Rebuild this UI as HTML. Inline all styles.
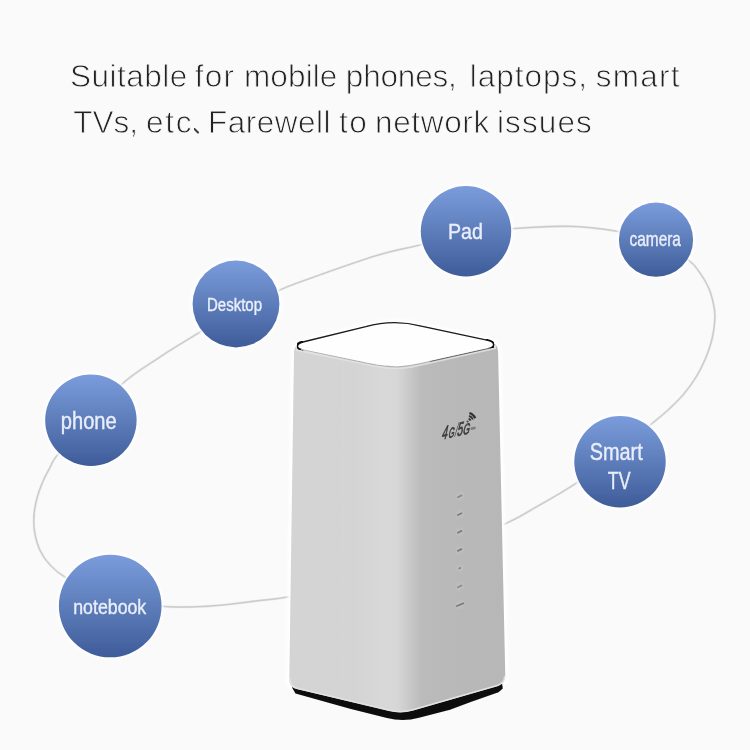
<!DOCTYPE html>
<html><head><meta charset="utf-8"><title>Router</title>
<style>
html,body{margin:0;padding:0;background:#fafafa;}
body{width:750px;height:750px;overflow:hidden;font-family:"Liberation Sans",sans-serif;}
svg{display:block;}
text{font-family:"Liberation Sans",sans-serif;}
</style></head><body>
<svg width="750" height="750" viewBox="0 0 750 750">
<defs>
<linearGradient id="cg" x1="0" y1="0" x2="0" y2="1">
<stop offset="0" stop-color="#7b9cdc"/><stop offset="0.5" stop-color="#5d7dba"/><stop offset="1" stop-color="#3e5c99"/>
</linearGradient>
<linearGradient id="bodyg" gradientUnits="userSpaceOnUse" x1="289" y1="0" x2="507" y2="0">
<stop offset="0.000" stop-color="#d4d4d4"/>
<stop offset="0.300" stop-color="#d4d4d4"/>
<stop offset="0.440" stop-color="#d8d8d8"/>
<stop offset="0.490" stop-color="#d7d7d7"/>
<stop offset="0.525" stop-color="#d0d0d0"/>
<stop offset="0.570" stop-color="#c4c4c4"/>
<stop offset="0.610" stop-color="#bbbbbb"/>
<stop offset="0.640" stop-color="#bababa"/>
<stop offset="0.800" stop-color="#b8b8b8"/>
<stop offset="1.000" stop-color="#b7b7b7"/>
</linearGradient>
<linearGradient id="rshade" gradientUnits="userSpaceOnUse" x1="0" y1="345" x2="0" y2="700">
<stop offset="0" stop-color="#000" stop-opacity="0.16"/>
<stop offset="0.35" stop-color="#000" stop-opacity="0.05"/>
<stop offset="1" stop-color="#000" stop-opacity="0"/>
</linearGradient>
<filter id="tb" x="-5%" y="-20%" width="110%" height="140%"><feGaussianBlur stdDeviation="0.35"/></filter>
<filter id="lb" x="-5%" y="-5%" width="110%" height="110%"><feGaussianBlur stdDeviation="0.85"/></filter>
<filter id="b03"><feGaussianBlur stdDeviation="0.35"/></filter>
<filter id="b0"><feGaussianBlur stdDeviation="0.4"/></filter>
<filter id="b05"><feGaussianBlur stdDeviation="0.55"/></filter>
<filter id="b1"><feGaussianBlur stdDeviation="0.6"/></filter>
<filter id="b2"><feGaussianBlur stdDeviation="1.5"/></filter>
</defs>
<rect width="750" height="750" fill="#fafafa"/>
<g fill="none" stroke-linecap="round"><path d="M33.9 516.8 C34.2 511.1 35.2 505.4 36.6 499.7 C38.0 494.0 40.2 487.9 42.4 482.6 C44.6 477.3 47.2 472.5 49.9 467.7 C52.6 462.9 51.5 461.8 58.4 453.9 C65.2 445.9 80.4 431.6 91.0 420.0 C101.6 408.4 110.5 394.5 122.0 384.0 C133.5 373.5 147.0 365.7 160.0 357.0 C173.0 348.3 187.3 340.0 200.0 332.0 C212.7 324.0 222.7 316.0 236.0 309.0 C249.3 302.0 269.3 294.5 280.0 290.0 C290.7 285.5 284.2 287.7 300.0 282.0 C315.8 276.3 355.0 262.2 375.0 256.0 C395.0 249.8 405.0 248.8 420.0 245.0 C435.0 241.2 449.8 235.7 465.0 233.0 C480.2 230.3 493.5 229.9 511.0 228.8 C528.5 227.7 552.0 225.8 570.0 226.3 C588.0 226.8 604.7 229.0 619.0 231.6 C633.3 234.2 644.5 237.3 656.0 242.0 C667.5 246.7 680.9 255.0 688.1 260.0 C695.3 265.0 695.9 267.3 699.3 272.0 C702.7 276.7 706.2 282.2 708.7 288.0 C711.2 293.8 713.0 301.4 714.0 306.7 C715.0 312.0 715.1 314.7 714.8 320.0 C714.5 325.3 713.6 332.5 712.1 338.7 C710.6 344.9 708.6 351.1 706.0 357.3 C703.4 363.5 700.5 369.8 696.7 376.0 C692.9 382.2 688.2 388.9 683.3 394.7 C678.4 400.5 672.8 405.6 667.3 410.7 C661.8 415.8 657.9 418.4 650.0 425.3 C642.1 432.2 632.2 442.4 620.0 452.0 C607.8 461.6 590.6 473.8 576.7 482.9 C562.8 492.0 549.2 499.6 536.7 506.7 C524.2 513.8 521.5 516.4 502.0 525.3 C482.6 534.2 445.3 550.2 420.0 560.0 C394.7 569.8 371.7 577.9 350.0 584.0 C328.3 590.1 305.2 593.9 289.7 596.7 C274.1 599.5 267.5 599.5 256.7 600.9 C245.9 602.2 235.4 603.8 224.7 604.8 C214.0 605.8 203.1 606.6 192.7 606.9 C182.2 607.1 175.8 607.4 162.0 606.3 C148.2 605.1 126.0 604.8 110.0 600.0 C94.0 595.2 75.8 583.4 65.8 577.5 C55.8 571.6 54.1 569.1 49.9 564.7 C45.6 560.3 42.8 556.0 40.3 550.9 C37.8 545.8 36.0 539.5 34.9 533.8 C33.8 528.1 33.6 522.5 33.9 516.8Z" stroke="#f1f1f1" stroke-width="2.8"/><path d="M33.9 516.8 C34.2 511.1 35.2 505.4 36.6 499.7 C38.0 494.0 40.2 487.9 42.4 482.6 C44.6 477.3 47.2 472.5 49.9 467.7 C52.6 462.9 51.5 461.8 58.4 453.9 C65.2 445.9 80.4 431.6 91.0 420.0 C101.6 408.4 110.5 394.5 122.0 384.0 C133.5 373.5 147.0 365.7 160.0 357.0 C173.0 348.3 187.3 340.0 200.0 332.0 C212.7 324.0 222.7 316.0 236.0 309.0 C249.3 302.0 269.3 294.5 280.0 290.0 C290.7 285.5 284.2 287.7 300.0 282.0 C315.8 276.3 355.0 262.2 375.0 256.0 C395.0 249.8 405.0 248.8 420.0 245.0 C435.0 241.2 449.8 235.7 465.0 233.0 C480.2 230.3 493.5 229.9 511.0 228.8 C528.5 227.7 552.0 225.8 570.0 226.3 C588.0 226.8 604.7 229.0 619.0 231.6 C633.3 234.2 644.5 237.3 656.0 242.0 C667.5 246.7 680.9 255.0 688.1 260.0 C695.3 265.0 695.9 267.3 699.3 272.0 C702.7 276.7 706.2 282.2 708.7 288.0 C711.2 293.8 713.0 301.4 714.0 306.7 C715.0 312.0 715.1 314.7 714.8 320.0 C714.5 325.3 713.6 332.5 712.1 338.7 C710.6 344.9 708.6 351.1 706.0 357.3 C703.4 363.5 700.5 369.8 696.7 376.0 C692.9 382.2 688.2 388.9 683.3 394.7 C678.4 400.5 672.8 405.6 667.3 410.7 C661.8 415.8 657.9 418.4 650.0 425.3 C642.1 432.2 632.2 442.4 620.0 452.0 C607.8 461.6 590.6 473.8 576.7 482.9 C562.8 492.0 549.2 499.6 536.7 506.7 C524.2 513.8 521.5 516.4 502.0 525.3 C482.6 534.2 445.3 550.2 420.0 560.0 C394.7 569.8 371.7 577.9 350.0 584.0 C328.3 590.1 305.2 593.9 289.7 596.7 C274.1 599.5 267.5 599.5 256.7 600.9 C245.9 602.2 235.4 603.8 224.7 604.8 C214.0 605.8 203.1 606.6 192.7 606.9 C182.2 607.1 175.8 607.4 162.0 606.3 C148.2 605.1 126.0 604.8 110.0 600.0 C94.0 595.2 75.8 583.4 65.8 577.5 C55.8 571.6 54.1 569.1 49.9 564.7 C45.6 560.3 42.8 556.0 40.3 550.9 C37.8 545.8 36.0 539.5 34.9 533.8 C33.8 528.1 33.6 522.5 33.9 516.8Z" stroke="#dcdcdc" stroke-width="1.8"/><path d="M33.9 516.8 C34.2 511.1 35.2 505.4 36.6 499.7 C38.0 494.0 40.2 487.9 42.4 482.6 C44.6 477.3 47.2 472.5 49.9 467.7 C52.6 462.9 51.5 461.8 58.4 453.9 C65.2 445.9 80.4 431.6 91.0 420.0 C101.6 408.4 110.5 394.5 122.0 384.0 C133.5 373.5 147.0 365.7 160.0 357.0 C173.0 348.3 187.3 340.0 200.0 332.0 C212.7 324.0 222.7 316.0 236.0 309.0 C249.3 302.0 269.3 294.5 280.0 290.0 C290.7 285.5 284.2 287.7 300.0 282.0 C315.8 276.3 355.0 262.2 375.0 256.0 C395.0 249.8 405.0 248.8 420.0 245.0 C435.0 241.2 449.8 235.7 465.0 233.0 C480.2 230.3 493.5 229.9 511.0 228.8 C528.5 227.7 552.0 225.8 570.0 226.3 C588.0 226.8 604.7 229.0 619.0 231.6 C633.3 234.2 644.5 237.3 656.0 242.0 C667.5 246.7 680.9 255.0 688.1 260.0 C695.3 265.0 695.9 267.3 699.3 272.0 C702.7 276.7 706.2 282.2 708.7 288.0 C711.2 293.8 713.0 301.4 714.0 306.7 C715.0 312.0 715.1 314.7 714.8 320.0 C714.5 325.3 713.6 332.5 712.1 338.7 C710.6 344.9 708.6 351.1 706.0 357.3 C703.4 363.5 700.5 369.8 696.7 376.0 C692.9 382.2 688.2 388.9 683.3 394.7 C678.4 400.5 672.8 405.6 667.3 410.7 C661.8 415.8 657.9 418.4 650.0 425.3 C642.1 432.2 632.2 442.4 620.0 452.0 C607.8 461.6 590.6 473.8 576.7 482.9 C562.8 492.0 549.2 499.6 536.7 506.7 C524.2 513.8 521.5 516.4 502.0 525.3 C482.6 534.2 445.3 550.2 420.0 560.0 C394.7 569.8 371.7 577.9 350.0 584.0 C328.3 590.1 305.2 593.9 289.7 596.7 C274.1 599.5 267.5 599.5 256.7 600.9 C245.9 602.2 235.4 603.8 224.7 604.8 C214.0 605.8 203.1 606.6 192.7 606.9 C182.2 607.1 175.8 607.4 162.0 606.3 C148.2 605.1 126.0 604.8 110.0 600.0 C94.0 595.2 75.8 583.4 65.8 577.5 C55.8 571.6 54.1 569.1 49.9 564.7 C45.6 560.3 42.8 556.0 40.3 550.9 C37.8 545.8 36.0 539.5 34.9 533.8 C33.8 528.1 33.6 522.5 33.9 516.8Z" stroke="#c6c6c6" stroke-width="0.95"/></g>
<g id="router">
<path d="M294 352 Q294 346 300 343.5 L366 326 Q393.5 319 421 325.5 L488 340.5 Q498 343 498.1 352 L505.3 676 Q505.3 683 498 686 L413 710.5 Q401 714 389 710.8 L296.5 689 Q289.3 687 289.3 679 Z" fill="none" stroke="#ffffff" stroke-width="6" filter="url(#b2)"/>
<path d="M292.3 688 L295.5 693.6 L350 708.8 L387 718 Q403 722.3 419 717.8 L450 709.8 L470 702.2 L498.5 692.2 L502.8 688.4 L502 683 L293 683Z" fill="#0b0b0b" filter="url(#b1)"/>
<path id="body" d="M294 352 Q294 346 300 343.5 L366 326 Q393.5 319 421 325.5 L488 340.5 Q498 343 498.1 352 L505.3 676 Q505.3 683 498 686 L413 710.5 Q401 714 389 710.8 L296.5 689 Q289.3 687 289.3 679 Z" fill="url(#bodyg)"/>
<path d="M289.8 678 Q290 686.5 297 688.3 L389 710.2 Q401 713.2 413 709.8 L498 685.3 Q504.6 683 504.8 676" fill="none" stroke="#e2e2e2" stroke-width="1.6" filter="url(#b1)"/>
<line x1="343.5" y1="358" x2="342.5" y2="699" stroke="#d8d8d8" stroke-width="0.8" opacity="0.6"/>
<path d="M296 351 L362 364.3 C398 372.3 404 369.6 440 361.4 L496 349 L496 345 L296 346Z" fill="#e4e4e4" filter="url(#b1)" opacity="0.85"/>
<g id="logo" filter="url(#b05)">
<g transform="matrix(1,-0.23,-0.2,1,441.3,439.8)" fill="#3c3c3c" stroke="#3c3c3c" stroke-width="0.8">
<text font-size="19.5" transform="scale(0.52 1)">4</text>
<text font-size="14.5" transform="translate(6.6 0) scale(0.5 1)">G</text>
<text font-size="19.5" transform="translate(12.9 0) scale(0.45 1)" stroke="none">/</text>
<text font-size="19.5" transform="translate(15.2 0) scale(0.52 1)">5</text>
<text font-size="15.5" transform="translate(21.2 0) scale(0.55 1)">G</text>
</g>
<g fill="none" stroke="#333" stroke-width="1.7">
<path d="M468.6 418.6 A3.4 3.4 0 0 1 470.6 420.6"/>
<path d="M469.0 415.9 A6 6 0 0 1 472.9 419.5"/>
<path d="M469.4 413.0 A8.8 8.8 0 0 1 475.2 418.2" stroke-width="2.3"/>
</g>
<circle cx="467.6" cy="421.6" r="1.0" fill="#444"/>
<rect x="470.6" y="427" width="5" height="2.6" fill="#7c7c7c" transform="rotate(-13 473 428)"/>
</g>
<g id="ledhalo" stroke="#c4c4c4" stroke-width="5.5" stroke-linecap="round" filter="url(#b2)" opacity="0.7">
<path d="M458.2 497.1 L461.2 495.5"/>
<path d="M458.2 514.9 L461.2 513.3"/>
<path d="M458.2 532.6 L461.2 531.0"/>
<path d="M458.2 550.8 L461.2 549.2"/>
<path d="M459.2 568.4 L460.2 568.0"/>
<path d="M458.2 587.2 L461.2 585.6"/>
<path d="M457 605.8 L463 603.4"/>
</g>
<g id="leds" stroke="#7c7c7c" stroke-width="1.8" stroke-linecap="round" filter="url(#b05)">
<path d="M457.9 497.2 L461.5 495.4" stroke="#8a8a8a"/>
<path d="M457.9 515.0 L461.5 513.2"/>
<path d="M457.9 532.7 L461.5 530.9"/>
<path d="M457.9 550.9 L461.5 549.1"/>
<path d="M459.3 568.4 L460.1 568.0"/>
<path d="M457.9 587.3 L461.5 585.5" stroke="#8a8a8a"/>
<path d="M456.8 606.0 L463.2 603.3"/>
</g>
<path id="toprim" d="M302.5 349.2 C299.5 348.4 298 347.6 298.2 346 C298.4 344.2 300.5 343.3 304 342.4 L366 327.3 Q393.5 319.6 421 326.8 L485.5 340.6 C490 341.6 492.6 342.6 492.9 344.4 C493 345.8 492 346.8 489.5 347.4" fill="none" stroke="#1c1c1c" stroke-width="2.8" stroke-linecap="round" filter="url(#b0)"/>
<path d="M300.5 348.6 C298.6 347.9 297.6 347 297.8 345.6 C298 344 299.8 343.2 302.5 342.5" fill="none" stroke="#0c0c0c" stroke-width="3.4" stroke-linecap="round" filter="url(#b0)"/>
<path d="M487 340.6 C491 341.5 493.2 342.8 493.3 344.6 C493.4 345.8 492.6 346.6 491.4 347.1" fill="none" stroke="#0c0c0c" stroke-width="3.4" stroke-linecap="round" filter="url(#b0)"/>
<path id="topedge" d="M301 349.2 L362 362.2 C398 370 404 367.4 440 359.3 L490.5 348" fill="none" stroke="#b4b4b4" stroke-width="1.2" filter="url(#b0)"/>
<path d="M430 361.4 L490.5 348" fill="none" stroke="#6a6a6a" stroke-width="1" filter="url(#b0)"/>
<path id="top" d="M305 349.7 C300.5 348.7 298 347.8 298.2 346 C298.4 344.2 300.5 343.3 304 342.4 L366 327.3 Q393.5 319.6 421 326.8 L485.5 340.6 C490 341.6 492.6 342.6 492.9 344.4 C493.1 346 491.6 347 487.5 347.9 L440 358.6 C404 366.6 398 369.3 362 361.5Z" fill="#fefefe"/>
</g>
<circle cx="466.0" cy="231.3" r="47.0" fill="#ffffff" filter="url(#b2)"/>
<circle cx="656.0" cy="239.7" r="38.9" fill="#ffffff" filter="url(#b2)"/>
<circle cx="236.0" cy="304.0" r="45.2" fill="#ffffff" filter="url(#b2)"/>
<circle cx="90.9" cy="420.2" r="47.5" fill="#ffffff" filter="url(#b2)"/>
<circle cx="110.2" cy="606.0" r="53.1" fill="#ffffff" filter="url(#b2)"/>
<circle cx="620.0" cy="461.8" r="47.5" fill="#ffffff" filter="url(#b2)"/>
<circle cx="466.0" cy="231.3" r="45.2" fill="url(#cg)" filter="url(#b03)"/>
<circle cx="656.0" cy="239.7" r="37.1" fill="url(#cg)" filter="url(#b03)"/>
<circle cx="236.0" cy="304.0" r="43.4" fill="url(#cg)" filter="url(#b03)"/>
<circle cx="90.9" cy="420.2" r="45.7" fill="url(#cg)" filter="url(#b03)"/>
<circle cx="110.2" cy="606.0" r="51.3" fill="url(#cg)" filter="url(#b03)"/>
<circle cx="620.0" cy="461.8" r="45.7" fill="url(#cg)" filter="url(#b03)"/>
<g fill="#e9eefa" stroke="#e9eefa" stroke-width="0.4" filter="url(#tb)">
<text font-size="22.2" transform="translate(448.00 239.3) scale(0.8857 1)">Pad</text>
<text font-size="19.6" transform="translate(629.60 245.5) scale(0.7846 1)">camera</text>
<text font-size="17.6" transform="translate(207.00 311.4) scale(0.8528 1)">Desktop</text>
<text font-size="23.4" transform="translate(60.80 429.3) scale(0.8592 1)">phone</text>
<text font-size="19.7" transform="translate(73.20 614.4) scale(0.9013 1)">notebook</text>
<text font-size="23.3" transform="translate(589.80 460.0) scale(0.8518 1)">Smart</text>
<text font-size="23.3" transform="translate(607.80 488.8) scale(0.7624 1)">TV</text>
</g>
<g font-size="31.5" fill="#242424" stroke="#fafafa" stroke-width="0.85" filter="url(#tb)">
<text x="70.00" y="86.7" letter-spacing="0.500">Suitable</text>
<text x="194.80" y="86.7" letter-spacing="1.200">for</text>
<text x="244.00" y="86.7" letter-spacing="0.120">mobile</text>
<text x="345.80" y="86.7" letter-spacing="-0.184">phones,</text>
<text x="469.80" y="86.7" letter-spacing="0.972">laptops,</text>
<text x="595.80" y="86.7" letter-spacing="1.225">smart</text>
<text x="73.20" y="132.6" letter-spacing="0.033">TVs,</text>
<text x="146.00" y="132.6" letter-spacing="1.750">etc</text>
<text x="208.00" y="132.6" letter-spacing="0.500">Farewell</text>
<text x="339.00" y="132.6" letter-spacing="1.500">to</text>
<text x="375.00" y="132.6" letter-spacing="0.650">network</text>
<text x="497.00" y="132.6" letter-spacing="1.100">issues</text>
</g>
<path d="M194.5 129.0 L198.0 132.5" stroke="#3a3a3a" stroke-width="2" stroke-linecap="round" fill="none" filter="url(#tb)"/>
</svg>
</body></html>
